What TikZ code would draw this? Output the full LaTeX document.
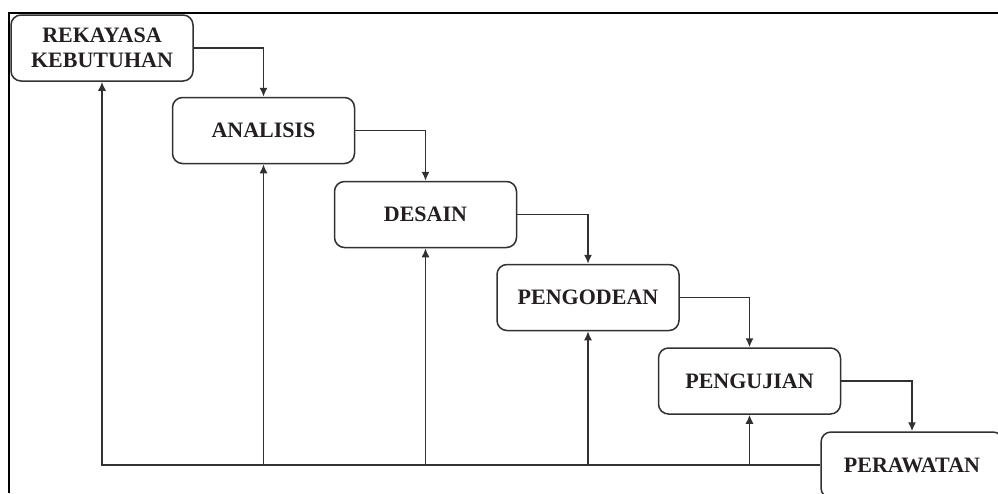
\documentclass[tikz,border=0pt]{standalone}
\usepackage{fontspec}
\setmainfont{Liberation Serif}
\usetikzlibrary{arrows.meta}
\definecolor{ink}{HTML}{231F20}
\definecolor{linec}{HTML}{333030}
\tikzset{
  phase/.style={draw=linec, line width=1.5pt, rounded corners=10pt, fill=white,
    minimum width=182pt, minimum height=66pt, inner sep=0pt, align=center,
    text=ink, font=\fontsize{22}{25}\selectfont\bfseries},
  conn/.style={draw=linec, line width=1.5pt, -{Latex[length=9pt,width=8pt]}},
  frame/.style={draw=black, line width=2.4pt}
}
\begin{document}
\begin{tikzpicture}[x=1pt,y=-1pt]
\useasboundingbox (0,0) rectangle (998,493);
\clip (0,0) rectangle (998,493);
\fill[white] (0,0) rectangle (998,493);
\draw[frame] (9,493) -- (9,13) -- (1000,13);
\node[phase] (rek) at (102,48) {REKAYASA\\KEBUTUHAN};
\node[phase] (ana) at (263.5,130.5) {ANALISIS};
\node[phase] (des) at (425.5,214.5) {DESAIN};
\node[phase] (pen) at (588,297.5) {PENGODEAN};
\node[phase] (uji) at (749.5,381) {PENGUJIAN};
\node[phase] (raw) at (912,465) {PERAWATAN};
\draw[conn] (rek.east) -| (ana.north);
\draw[conn] (ana.east) -| (des.north);
\draw[conn] (des.east) -| (pen.north);
\draw[conn] (pen.east) -| (uji.north);
\draw[conn] (uji.east) -| (raw.north);
\draw[conn] (raw.west) -| (rek.south);
\draw[conn] (ana.south |- raw.west) -- (ana.south);
\draw[conn] (des.south |- raw.west) -- (des.south);
\draw[conn] (pen.south |- raw.west) -- (pen.south);
\draw[conn] (uji.south |- raw.west) -- (uji.south);
\end{tikzpicture}
\end{document}
